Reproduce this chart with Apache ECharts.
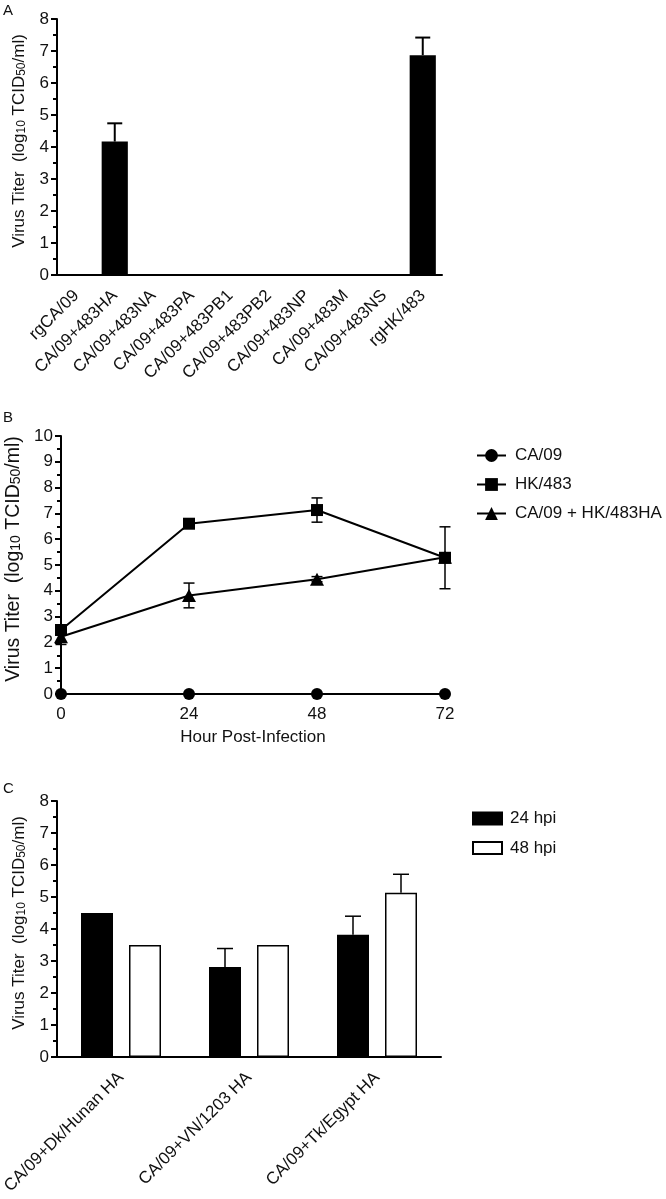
<!DOCTYPE html>
<html>
<head>
<meta charset="utf-8">
<script src="https://cdn.jsdelivr.net/npm/echarts@6/dist/echarts.min.js"></script>
<style>
html,body{margin:0;padding:0;background:#fff;}
#chart{width:666px;height:1199px;}
</style>
</head>
<body>
<div id="chart"></div>
<script>
// ---------- Data ----------
const catsA = ['rgCA/09','CA/09+483HA','CA/09+483NA','CA/09+483PA','CA/09+483PB1','CA/09+483PB2','CA/09+483NP','CA/09+483M','CA/09+483NS','rgHK/483'];
const titerA = [0, 4.17, 0, 0, 0, 0, 0, 0, 0, 6.87];
const errA = [0, 0.57, 0, 0, 0, 0, 0, 0, 0, 0.55];

const hoursB = [0, 24, 48, 72];
const ca09B = [0, 0, 0, 0];
const hk483B = [2.48, 6.6, 7.13, 5.28];
const hk483ErrB = [0.1, 0.1, 0.47, 1.2];
const reassortB = [2.22, 3.82, 4.45, 5.3];
const reassortErrB = [0.3, 0.48, 0.1, 0.1];
const namesB = ['CA/09', 'HK/483', 'CA/09 + HK/483HA'];

const catsC = ['CA/09+Dk/Hunan HA', 'CA/09+VN/1203 HA', 'CA/09+Tk/Egypt HA'];
const hpi24C = [4.5, 2.81, 3.82];
const hpi24ErrC = [0, 0.58, 0.58];
const hpi48C = [3.5, 3.5, 5.13];
const hpi48ErrC = [0, 0, 0.58];
const namesC = ['24 hpi', '48 hpi'];

// ---------- Styles ----------
const FONT = "'Liberation Sans', Arial, sans-serif";
const TXT = '#111';
const FS = 17;
const yTitle = '{a|Virus Titer  (log}{s|10}{a| TCID}{s|50}{a|/ml)}';
function yName(fs) {
  return {
    fontFamily: FONT, color: TXT, padding: [0, 0, 0, 12],
    rich: {
      a: {fontSize: fs, fontFamily: FONT, color: TXT},
      s: {fontSize: Math.round(fs * 0.7), fontFamily: FONT, color: TXT, padding: [6, 0, 0, 0]}
    }
  };
}
function valueY(gridIndex, max, nameFs, gap) {
  return {
    type: 'value', gridIndex: gridIndex, min: 0, max: max, interval: 1,
    name: yTitle, nameLocation: 'middle', nameRotate: 90, nameGap: gap,
    nameTextStyle: yName(nameFs),
    axisLine: {show: true, lineStyle: {color: '#000', width: 2}},
    axisTick: {show: true, length: 6, lineStyle: {color: '#000', width: 2}},
    minorTick: {show: true, splitNumber: 2, length: 4, lineStyle: {color: '#000', width: 2}},
    splitLine: {show: false},
    axisLabel: {fontSize: FS, fontFamily: FONT, color: TXT, margin: 8}
  };
}

// error bar renderer
function errRender(capW, lw, both, offsetFrac) {
  return function (params, api) {
    const x = api.value(0), y = api.value(1), e = api.value(2);
    const p = api.coord([x, y]);
    const hi = api.coord([x, y + e]);
    const lo = both ? api.coord([x, y - e]) : p;
    let dx = 0;
    if (offsetFrac) {
      const band = api.size([1, 0])[0];
      dx = band * offsetFrac;
    }
    const cx = p[0] + dx;
    const st = {stroke: '#000', lineWidth: lw};
    const children = [
      {type: 'line', shape: {x1: cx, y1: lo[1], x2: cx, y2: hi[1]}, style: st},
      {type: 'line', shape: {x1: cx - capW / 2, y1: hi[1], x2: cx + capW / 2, y2: hi[1]}, style: st}
    ];
    if (both) children.push({type: 'line', shape: {x1: cx - capW / 2, y1: lo[1], x2: cx + capW / 2, y2: lo[1]}, style: st});
    return {type: 'group', children: children};
  };
}

// bar layout for panel C (fraction of band)
const barFracC = 0.25, gapFracC = 0.5;
const offC = (barFracC + barFracC * gapFracC) / 2;

const errDataA = catsA.map((c, i) => [i, titerA[i], errA[i]]).filter(d => d[2] > 0);
const errHK = hoursB.map((h, i) => [h, hk483B[i], hk483ErrB[i]]);
const errRe = hoursB.map((h, i) => [h, reassortB[i], reassortErrB[i]]);
const err24 = catsC.map((c, i) => [i, hpi24C[i], hpi24ErrC[i]]).filter(d => d[2] > 0);
const err48 = catsC.map((c, i) => [i, hpi48C[i], hpi48ErrC[i]]).filter(d => d[2] > 0);

const chart = echarts.init(document.getElementById('chart'), null, {renderer: 'canvas'});
const option = {
  backgroundColor: '#fff',
  animation: false,
  textStyle: {fontFamily: FONT},
  graphic: [
    {type: 'text', left: 3, top: 3, style: {text: 'A', fontSize: 15, fontFamily: FONT, fill: TXT}},
    {type: 'text', left: 3, top: 410, style: {text: 'B', fontSize: 15, fontFamily: FONT, fill: TXT}},
    {type: 'text', left: 3, top: 781, style: {text: 'C', fontSize: 15, fontFamily: FONT, fill: TXT}}
  ],
  legend: [
    {
      data: namesB, orient: 'vertical', left: 471, top: 442,
      itemWidth: 29, itemHeight: 16, itemGap: 12, selectedMode: false,
      textStyle: {fontSize: FS, fontFamily: FONT, color: TXT, padding: [0, 0, 0, 4]}
    },
    {
      data: namesC, orient: 'vertical', left: 467, top: 805, icon: 'rect',
      itemWidth: 29, itemHeight: 12, itemGap: 12.6, selectedMode: false,
      textStyle: {fontSize: FS, fontFamily: FONT, color: TXT, padding: [0, 0, 0, 3]}
    }
  ],
  grid: [
    {left: 57, top: 19, width: 385, height: 256, containLabel: false, outerBoundsMode: 'none'},
    {left: 61, top: 436, width: 384, height: 258, containLabel: false, outerBoundsMode: 'none'},
    {left: 57, top: 801, width: 384, height: 256, containLabel: false, outerBoundsMode: 'none'}
  ],
  xAxis: [
    {
      type: 'category', gridIndex: 0, data: catsA,
      axisLine: {lineStyle: {color: '#000', width: 2}},
      axisTick: {alignWithLabel: true, length: 7, lineStyle: {color: '#000', width: 2}},
      axisLabel: {rotate: 45, interval: 0, fontSize: FS, fontFamily: FONT, color: TXT, margin: 18}
    },
    {
      type: 'value', gridIndex: 1, min: 0, max: 72, interval: 24,
      name: 'Hour Post-Infection', nameLocation: 'middle', nameGap: 35,
      nameTextStyle: {fontSize: FS, fontFamily: FONT, color: TXT},
      axisLine: {lineStyle: {color: '#000', width: 2}},
      axisTick: {show: false},
      splitLine: {show: false},
      axisLabel: {fontSize: FS, fontFamily: FONT, color: TXT, margin: 12}
    },
    {
      type: 'category', gridIndex: 2, data: catsC,
      axisLine: {lineStyle: {color: '#000', width: 2}},
      axisTick: {alignWithLabel: true, length: 7, lineStyle: {color: '#000', width: 2}},
      axisLabel: {rotate: 45, interval: 0, fontSize: FS, fontFamily: FONT, color: TXT, margin: 18}
    }
  ],
  yAxis: [
    valueY(0, 8, 17, 29),
    valueY(1, 10, 19.5, 31),
    valueY(2, 8, 17, 29)
  ],
  series: [
    // Panel A
    {
      type: 'bar', xAxisIndex: 0, yAxisIndex: 0, data: titerA, barWidth: '68%',
      itemStyle: {color: '#000'}, silent: true
    },
    {
      type: 'custom', xAxisIndex: 0, yAxisIndex: 0, data: errDataA, z: 5,
      renderItem: errRender(15, 2, false, 0), silent: true
    },
    // Panel B
    {
      name: namesB[0], type: 'line', xAxisIndex: 1, yAxisIndex: 1,
      data: hoursB.map((h, i) => [h, ca09B[i]]), symbol: 'circle', symbolSize: 12, clip: false,
      itemStyle: {color: '#000'}, lineStyle: {color: '#000', width: 2}, z: 4
    },
    {
      name: namesB[2], type: 'line', xAxisIndex: 1, yAxisIndex: 1,
      data: hoursB.map((h, i) => [h, reassortB[i]]), symbol: 'triangle', symbolSize: [14, 13], clip: false,
      itemStyle: {color: '#000'}, lineStyle: {color: '#000', width: 2}, z: 3
    },
    {
      name: namesB[1], type: 'line', xAxisIndex: 1, yAxisIndex: 1,
      data: hoursB.map((h, i) => [h, hk483B[i]]), symbol: 'rect', symbolSize: 12, clip: false,
      itemStyle: {color: '#000'}, lineStyle: {color: '#000', width: 2}, z: 4
    },
    {
      type: 'custom', xAxisIndex: 1, yAxisIndex: 1, data: errHK, z: 2, clip: false,
      renderItem: errRender(11, 1.5, true, 0), silent: true
    },
    {
      type: 'custom', xAxisIndex: 1, yAxisIndex: 1, data: errRe, z: 2, clip: false,
      renderItem: errRender(11, 1.5, true, 0), silent: true
    },
    // Panel C
    {
      name: namesC[0], type: 'bar', xAxisIndex: 2, yAxisIndex: 2, data: hpi24C,
      barWidth: (barFracC * 100) + '%', barGap: (gapFracC * 100) + '%',
      itemStyle: {color: '#000', borderColor: '#000', borderWidth: 1.5}, silent: true
    },
    {
      name: namesC[1], type: 'bar', xAxisIndex: 2, yAxisIndex: 2, data: hpi48C,
      barWidth: (barFracC * 100) + '%', barGap: (gapFracC * 100) + '%',
      itemStyle: {color: '#fff', borderColor: '#000', borderWidth: 1.5}, silent: true
    },
    {
      type: 'custom', xAxisIndex: 2, yAxisIndex: 2, data: err24, z: 5,
      renderItem: errRender(16, 1.5, false, -offC), silent: true
    },
    {
      type: 'custom', xAxisIndex: 2, yAxisIndex: 2, data: err48, z: 5,
      renderItem: errRender(16, 1.5, false, offC), silent: true
    }
  ]
};
chart.setOption(option);
</script>
</body>
</html>
